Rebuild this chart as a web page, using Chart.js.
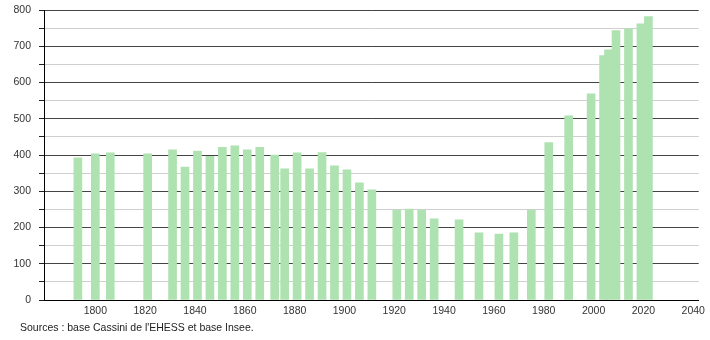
<!DOCTYPE html>
<html>
<head>
<meta charset="utf-8">
<script src="https://cdn.jsdelivr.net/npm/chart.js@4"></script>
<style>
  body { margin: 0; background: #fff; }
  #wrap { position: relative; width: 710px; height: 340px; }
  #source {
    position: absolute; left: 20px; top: 321px;
    font: 10.5px "Liberation Sans", Arial, sans-serif; color: #222;
  }
</style>
</head>
<body>
<div id="wrap">
  <canvas id="chart" width="710" height="340"></canvas>
  <div id="source">Sources : base Cassini de l'EHESS et base Insee.</div>
</div>
<script>
const years = [1793, 1800, 1806, 1821, 1831, 1836, 1841, 1846, 1851, 1856, 1861, 1866,
    1872, 1876, 1881, 1886, 1891, 1896, 1901, 1906, 1911, 1921, 1926, 1931, 1936,
    1946, 1954, 1962, 1968, 1975, 1982, 1990, 1999, 2004, 2006, 2009, 2014, 2019, 2022];
const population = [392, 403, 406, 403, 414, 367, 411, 396, 421, 425, 414, 421,
    400, 362, 406, 362, 407, 370, 359, 323, 304, 248, 251, 248, 224,
    221, 185, 182, 185, 248, 434, 508, 569, 674, 690, 743, 748, 762, 782];
const xTicks = [1800, 1820, 1840, 1860, 1880, 1900, 1920, 1940, 1960, 1980, 2000, 2020, 2040];

const font = { family: '"Liberation Sans", Arial, sans-serif', size: 10.5 };

new Chart(document.getElementById('chart'), {
    type: 'bar',
    data: {
        datasets: [{
            data: years.map((y, i) => ({ x: y, y: population[i] })),
            backgroundColor: 'rgb(174, 226, 176)',
            borderWidth: 0,
            barThickness: 8,
        }],
    },
    options: {
        responsive: false,
        animation: false,
        layout: { padding: { left: 0, top: 10, right: 9, bottom: 20 } },
        plugins: {
            legend: { display: false },
            tooltip: { enabled: false },
        },
        scales: {
            x: {
                type: 'linear',
                offset: false,
                min: 1779.4,
                max: 2042.2,
                afterBuildTicks: scale => { scale.ticks = xTicks.map(v => ({ value: v })); },
                afterFit: scale => { scale.height = 20; },
                grid: { display: false, drawTicks: false, offset: false },
                border: { color: '#000', width: 1 },
                ticks: { font, color: '#333', padding: 5, maxRotation: 0, callback: v => String(v) },
            },
            y: {
                min: 0,
                max: 800,
                afterFit: scale => {
                    scale.width = 44;
                    scale.paddingTop = 0;
                    scale.paddingBottom = 0;
                },
                border: { color: '#000', width: 1 },
                grid: {
                    color: ctx => ctx.tick.value % 100 === 0 ? '#444' : '#cfcfcf',
                    tickColor: '#222',
                    tickLength: 5,
                    lineWidth: 1,
                },
                ticks: {
                    stepSize: 50,
                    font,
                    color: '#333',
                    padding: 8,
                    callback: v => v % 100 === 0 ? v : '',
                },
            },
        },
    },
});
</script>
</body>
</html>
